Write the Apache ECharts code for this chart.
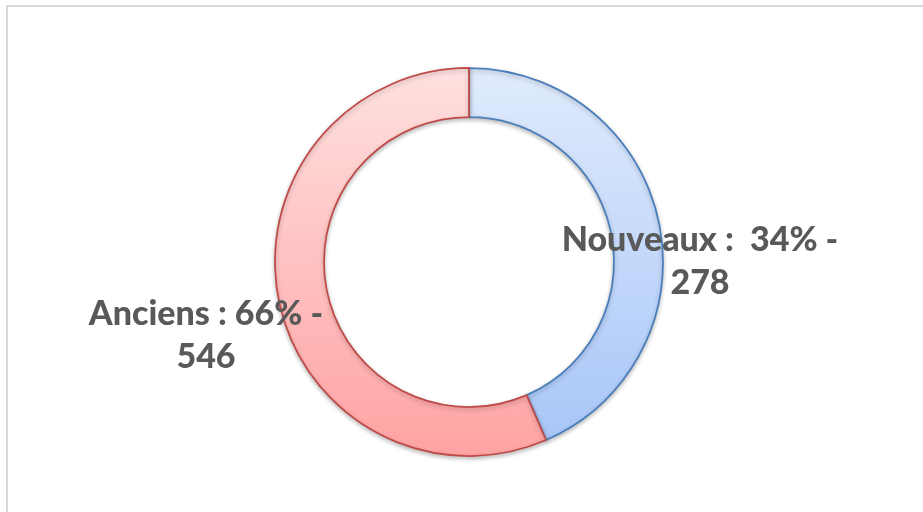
<!DOCTYPE html>
<html>
<head>
<meta charset="utf-8">
<script src="https://cdn.jsdelivr.net/npm/echarts@6/dist/echarts.min.js"></script>
<style>
  html, body { margin: 0; padding: 0; background: #fff; }
  #main { width: 923px; height: 512px; }
</style>
</head>
<body>
<div id="main"></div>
<script>
// slice sizes as drawn in the picture (labels carry the printed numbers)
var categories = ["Nouveaux", "Anciens"];
var sliceValues = [43.5, 56.5];
var labelPct = ["34%", "66%"];
var labelCount = [278, 546];
var labelSep = [" :  ", " : "];

var myChart = echarts.init(document.getElementById("main"));

// label spots, picked by hand to sit where Excel put them
var labelSpots = [
    { x: 700, y: 262 },
    { x: 206, y: 336 }
];

var option = {
    animation: false,
    graphic: [{
        type: "rect",
        shape: { x: 7, y: 6, width: 1000, height: 1000 },
        style: { fill: "none", stroke: "#d9d9d9", lineWidth: 2 },
        silent: true
    }],
    series: [{
        type: "pie",
        center: [469, 262],
        radius: [145, 194],
        startAngle: 90,
        clockwise: true,
        avoidLabelOverlap: false,
        label: {
            show: true,
            position: "outside",
            fontFamily: "Lato, 'Open Sans', sans-serif",
            fontWeight: 900,
            fontSize: 34,
            color: "#595959",
            lineHeight: 43,
            align: "center",
            formatter: function (p) {
                var i = p.dataIndex;
                return categories[i] + labelSep[i] + labelPct[i] + " -\n" + labelCount[i];
            }
        },
        labelLine: { show: false },
        labelLayout: function (p) {
            var s = labelSpots[p.dataIndex];
            return { x: s.x, y: s.y, align: "center", verticalAlign: "middle" };
        },
        data: [{
            name: categories[0],
            value: sliceValues[0],
            itemStyle: {
                color: new echarts.graphic.LinearGradient(0, 0, 0, 1, [
                    { offset: 0, color: "#e0ebfc" },
                    { offset: 1, color: "#a8c6f8" }
                ]),
                borderColor: "#4a7ebb",
                borderWidth: 1.75
            }
        }, {
            name: categories[1],
            value: sliceValues[1],
            itemStyle: {
                color: new echarts.graphic.LinearGradient(0, 0, 0, 1, [
                    { offset: 0, color: "#ffe0e0" },
                    { offset: 1, color: "#ffa3a3" }
                ]),
                borderColor: "#be4b48",
                borderWidth: 1.75
            }
        }],
        itemStyle: {
            shadowBlur: 4,
            shadowOffsetY: 2,
            shadowColor: "rgba(0,0,0,0.25)"
        },
        emphasis: { disabled: true }
    }]
};

myChart.setOption(option);
</script>
</body>
</html>
